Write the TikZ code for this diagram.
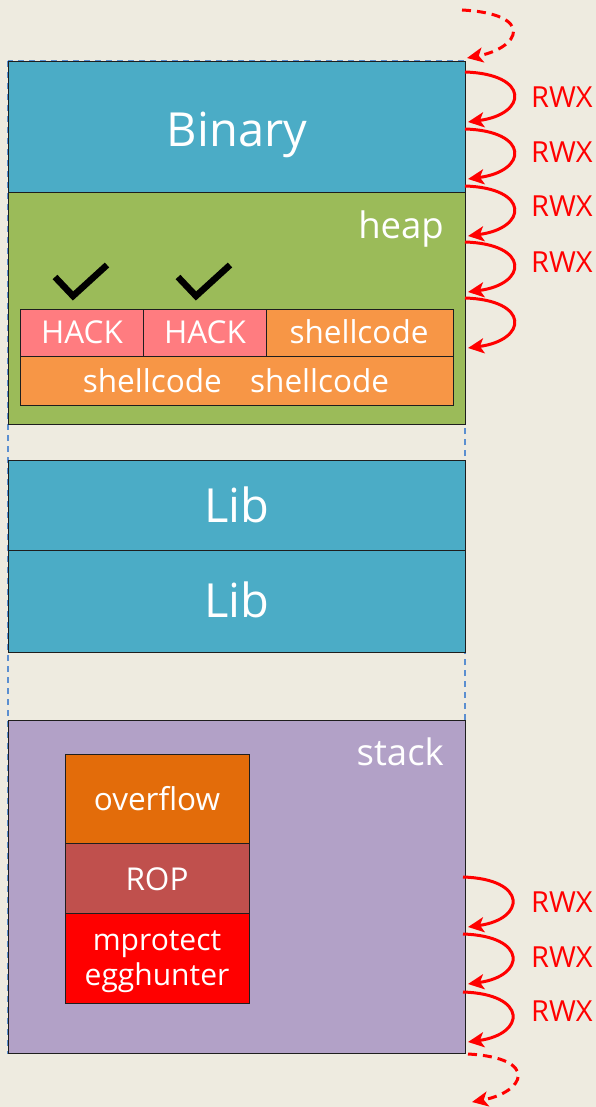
\documentclass[tikz,border=0pt]{standalone}
\usepackage{fontspec}
\setmainfont{Open Sans}
\usetikzlibrary{arrows.meta}
\definecolor{paper}{HTML}{EEEBE0}
\definecolor{segblue}{HTML}{4BACC6}
\definecolor{seggreen}{HTML}{9BBB59}
\definecolor{segpurple}{HTML}{B2A1C7}
\definecolor{hackpink}{HTML}{FF7C80}
\definecolor{shellorange}{HTML}{F79646}
\definecolor{overorange}{HTML}{E36C0A}
\definecolor{roprose}{HTML}{C0504D}
\definecolor{guideblue}{HTML}{5B8FD0}
\definecolor{edge}{HTML}{1E1E1E}
\tikzset{
  seg/.style={draw=edge, line width=1pt, rectangle, inner sep=0pt, anchor=north west},
  txt/.style={text=white, inner sep=0pt, anchor=base},
  big/.style={font=\fontsize{47}{50}\selectfont},
  mid/.style={font=\fontsize{36.5}{39}\selectfont},
  small/.style={font=\fontsize{31.5}{34}\selectfont},
  rwxloop/.style={draw=red, line width=3pt, -{Stealth[length=16pt,width=15pt,inset=4pt]}},
  rwxlabel/.style={text=red, inner sep=0pt, anchor=base west, font=\fontsize{29}{31}\selectfont},
  guide/.style={draw=guideblue, line width=1.4pt, dash pattern=on 6pt off 5pt},
  tick/.style={draw=black, line width=6.5pt, miter limit=10}
}
\begin{document}
\begin{tikzpicture}[x=1pt,y=-1pt]
  \fill[paper] (0,0) rectangle (596,1107);
  \useasboundingbox (0,0) rectangle (596,1107);

  % address-space outline
  \draw[guide] (8,61) rectangle (465,1053);

  % segments
  \node[seg, fill=segblue, minimum width=457pt, minimum height=131pt] (binary) at (8,61) {};
  \node[seg, fill=seggreen, minimum width=457pt, minimum height=232pt] (heap) at (8,192) {};
  \node[seg, fill=segblue, minimum width=457pt, minimum height=90pt] (lib1) at (8,460) {};
  \node[seg, fill=segblue, minimum width=457pt, minimum height=102pt] (lib2) at (8,550) {};
  \node[seg, fill=segpurple, minimum width=457pt, minimum height=333pt] (stack) at (8,720) {};

  \node[txt, big] (binarytxt) at (237,147) {Binary};
  \node[txt, mid, anchor=base east] (heaptxt) at (444,238) {heap};
  \node[txt, big] (lib1txt) at (237,522) {Lib};
  \node[txt, big] (lib2txt) at (237,617) {Lib};
  \node[txt, mid, anchor=base east] (stacktxt) at (444,765) {stack};

  % heap spray
  \node[seg, fill=hackpink, minimum width=123pt, minimum height=47pt] (hack1) at (20,309) {};
  \node[seg, fill=hackpink, minimum width=123pt, minimum height=47pt] (hack2) at (143,309) {};
  \node[seg, fill=shellorange, minimum width=187pt, minimum height=47pt] (shell1) at (266,309) {};
  \node[seg, fill=shellorange, minimum width=433pt, minimum height=49pt] (shell2) at (20,356) {};
  \node[txt, small] at (82,343) {HACK};
  \node[txt, small] at (205,343) {HACK};
  \node[txt, small] at (359,343) {shellcode};
  \node[txt, small] at (236,392) {shellcode\hspace{0.9em}shellcode};

  \draw[tick] (55,277) -- (73,296) -- (107,265);
  \draw[tick] (178,277) -- (196,296) -- (230,265);

  % stack payload
  \node[seg, fill=overorange, minimum width=184pt, minimum height=89pt] (overflow) at (65,754) {};
  \node[seg, fill=roprose, minimum width=184pt, minimum height=70pt] (rop) at (65,843) {};
  \node[seg, fill=red, minimum width=184pt, minimum height=90pt] (egg) at (65,913) {};
  \node[txt, small] at (157,810) {overflow};
  \node[txt, small] at (157,890) {ROP};
  \node[txt, font=\fontsize{30}{32}\selectfont] at (157,950) {mprotect};
  \node[txt, font=\fontsize{30}{32}\selectfont] at (157,985) {egghunter};

  % page permission loops, top
  \coordinate (t0) at (462,10);
  \coordinate (t0e) at (467,58);
  \draw[rwxloop, dash pattern=on 9pt off 6pt] (t0) .. controls (536,14) and (520,48) .. (t0e);
  \foreach \y in {72,129,186,242,298} {
    \coordinate (s\y) at (465,\y);
    \coordinate (e\y) at (468,\y+50);
    \draw[rwxloop] (s\y) .. controls (530,\y+2) and (528,\y+42) .. (e\y);
  }
  \node[rwxlabel] at (531,108) {RWX};
  \node[rwxlabel] at (531,163) {RWX};
  \node[rwxlabel] at (531,217) {RWX};
  \node[rwxlabel] at (531,272) {RWX};

  % page permission loops, bottom
  \foreach \y in {877,934,992} {
    \coordinate (s\y) at (463,\y);
    \coordinate (e\y) at (468,\y+50);
    \draw[rwxloop] (s\y) .. controls (528,\y+2) and (526,\y+42) .. (e\y);
  }
  \node[rwxlabel] at (531,912) {RWX};
  \node[rwxlabel] at (531,967) {RWX};
  \node[rwxlabel] at (531,1021) {RWX};
  \coordinate (b0) at (468,1054);
  \coordinate (b0e) at (472,1102);
  \draw[rwxloop, dash pattern=on 9pt off 6pt] (b0) .. controls (540,1058) and (525,1092) .. (b0e);
\end{tikzpicture}
\end{document}
